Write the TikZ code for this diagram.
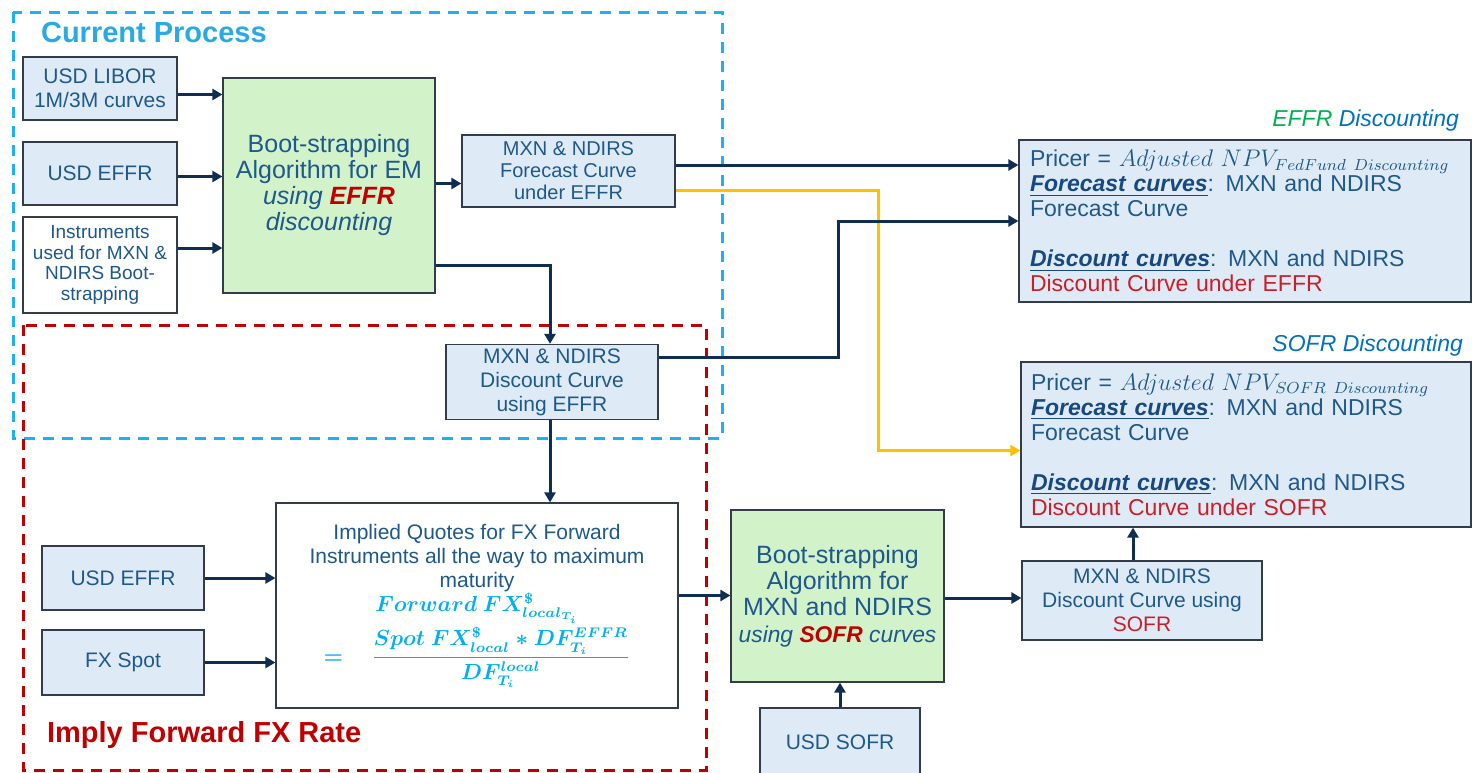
\documentclass[tikz,border=0pt]{standalone}
\usepackage{fontspec}
\setmainfont{Liberation Sans}
\usepackage{amsmath}
\usetikzlibrary{arrows.meta,positioning}
\definecolor{boxblue}{RGB}{222,235,247}
\definecolor{algreen}{RGB}{210,242,202}
\definecolor{txtblue}{RGB}{31,88,138}
\definecolor{headblue}{RGB}{24,72,128}
\definecolor{navy}{RGB}{16,46,82}
\definecolor{cyanline}{RGB}{30,176,240}
\definecolor{procblue}{RGB}{41,169,230}
\definecolor{darkred}{RGB}{192,0,0}
\definecolor{curvered}{RGB}{204,30,40}
\definecolor{effrgreen}{RGB}{0,176,80}
\definecolor{labblue}{RGB}{0,112,192}
\definecolor{fxcyan}{RGB}{0,176,240}
\definecolor{feedyellow}{RGB}{255,192,0}
\definecolor{boxline}{RGB}{50,60,75}
\newcommand{\hd}[1]{\textcolor{headblue}{\underline{\textbf{\textit{#1}}}}}
\tikzset{
  curvebox/.style={draw=boxline,line width=0.6pt,fill=boxblue,text=txtblue,align=center,inner sep=2pt},
  algobox/.style={curvebox,fill=algreen},
  plainbox/.style={curvebox,fill=white},
  pricerbox/.style={curvebox,align=left,text width=215pt,font=\fontsize{11.5}{12.5}\selectfont},
  flow/.style={navy,line width=1.5pt,-{Triangle[length=5pt,width=5.5pt]}},
  regionline/.style={line width=1.5pt,dash pattern=on 5.5pt off 4pt},
}
\begin{document}
\begin{tikzpicture}[x=0.5pt,y=-0.5pt,font=\fontsize{10.5}{12}\selectfont]
\useasboundingbox (0,0) rectangle (1472,772);
% region outlines
\draw[regionline,cyanline] (13,12) rectangle (722,438);
\draw[regionline,darkred] (23,325) rectangle (706,770);
\node[anchor=west,text=procblue,font=\fontsize{14.5}{16}\selectfont\bfseries] (curlab) at (34,33) {Current Process};
\node[anchor=west,text=darkred,font=\fontsize{14.5}{16}\selectfont\bfseries] (fxlab) at (40,735) {Imply Forward FX Rate};
\node[anchor=east,font=\fontsize{11.5}{13}\selectfont\itshape] (effrlab) at (1466,121) {\textcolor{effrgreen}{EFFR} \textcolor{labblue}{Discounting}};
\node[anchor=east,font=\fontsize{11.5}{13}\selectfont\itshape,text=labblue] (sofrlab) at (1470,346) {SOFR Discounting};
% current process
\node[curvebox,minimum width=77pt,minimum height=31.5pt] (libor) at (100,88.5) {USD LIBOR\\1M/3M curves};
\node[curvebox,minimum width=77pt,minimum height=31.5pt] (effra) at (100,173.5) {USD EFFR};
\node[plainbox,minimum width=77pt,minimum height=48pt,font=\fontsize{9.5}{10.3}\selectfont] (instr) at (100,265) {Instruments\\used for MXN \&\\NDIRS Boot-\\strapping};
\node[algobox,minimum width=106pt,minimum height=107.5pt,font=\fontsize{12.5}{13}\selectfont] (bootem) at (329,185.5) {Boot-strapping\\Algorithm for EM\\\textit{using \textcolor{darkred}{\textbf{EFFR}}}\\\textit{discounting}};
\node[curvebox,minimum width=106.5pt,minimum height=36pt,font=\fontsize{10}{11}\selectfont] (fcst) at (568.5,171) {MXN \& NDIRS\\Forecast Curve\\under EFFR};
\node[curvebox,minimum width=106pt,minimum height=36pt] (disc) at (552,382) {MXN \& NDIRS\\Discount Curve\\using EFFR};
% pricers
\node[pricerbox,minimum width=226pt,minimum height=81pt] (pricefed) at (1245,221) {Pricer = $Adjusted\ NPV_{FedFund\ Discounting}$\\\hd{Forecast curves}: MXN and NDIRS\\Forecast Curve\\[12.5pt]\hd{Discount curves}: MXN and NDIRS\\\textcolor{curvered}{Discount Curve under EFFR}};
\node[pricerbox,minimum width=225pt,minimum height=82.5pt] (pricesofr) at (1246,444.5) {Pricer = $Adjusted\ NPV_{SOFR\ Discounting}$\\\hd{Forecast curves}: MXN and NDIRS\\Forecast Curve\\[12.5pt]\hd{Discount curves}: MXN and NDIRS\\\textcolor{curvered}{Discount Curve under SOFR}};
% forward fx
\node[curvebox,minimum width=81pt,minimum height=32pt] (effrb) at (123,578) {USD EFFR};
\node[curvebox,minimum width=81pt,minimum height=32.5pt] (fxspot) at (123,662.5) {FX Spot};
\node[plainbox,minimum width=201pt,minimum height=102.5pt] (implied) at (477,605.5) {Implied Quotes for FX Forward\\Instruments all the way to maximum\\maturity\\
  \textcolor{fxcyan}{$\boldsymbol{Forward\ FX^{\$}_{local_{T_i}}}$}\\[1pt]
  \textcolor{fxcyan}{$\boldsymbol{=\quad\dfrac{Spot\ FX^{\$}_{local}*DF^{EFFR}_{T_i}}{DF^{local}_{T_i}}}$}};
\node[algobox,minimum width=106.5pt,minimum height=86pt,font=\fontsize{12.5}{13.2}\selectfont] (bootsofr) at (837.5,596) {Boot-strapping\\Algorithm for\\MXN and NDIRS\\{\fontsize{11.4}{13.2}\selectfont\textit{using \textcolor{darkred}{\textbf{SOFR}} curves}}};
\node[curvebox,minimum width=120pt,minimum height=39.5pt] (discsofr) at (1142,600.5) {MXN \& NDIRS\\Discount Curve using\\\textcolor{curvered}{SOFR}};
\node[curvebox,minimum width=80pt,minimum height=34pt] (sofr) at (840,742) {USD SOFR};
% connectors
\draw[flow] ([yshift=-3pt]libor.east) -- ([yshift=-3pt]libor.east -| bootem.west);
\draw[flow] ([yshift=-1.5pt]effra.east) -- ([yshift=-1.5pt]effra.east -| bootem.west);
\draw[flow] ([yshift=8.5pt]instr.east) -- ([yshift=8.5pt]instr.east -| bootem.west);
\draw[flow] ([yshift=1pt]bootem.east) -- ([yshift=1pt]bootem.east -| fcst.west);
\draw[flow] ([yshift=-40pt]bootem.east) -| ([xshift=-1pt]disc.north);
\draw[flow] ([yshift=3pt]fcst.east) -- ([yshift=3pt]fcst.east -| pricefed.west);
\draw[flow,feedyellow] ([yshift=-9.5pt]fcst.east) -- ++(101.5pt,0) |- ([yshift=-3pt]pricesofr.west);
\draw[flow] ([yshift=12.5pt]disc.east) -- ++(90pt,0) |- (pricefed.west);
\draw[flow] ([xshift=-1pt]disc.south) -- ([xshift=-1pt]disc.south |- implied.north);
\draw[flow] (effrb.east) -- (effrb.east -| implied.west);
\draw[flow] (fxspot.east) -- (fxspot.east -| implied.west);
\draw[flow] ([yshift=5pt]implied.east) -- ([yshift=5pt]implied.east -| bootsofr.west);
\draw[flow] ([yshift=-1pt]bootsofr.east) -- ([yshift=-1pt]bootsofr.east -| discsofr.west);
\draw[flow] ([xshift=-4.5pt]discsofr.north) -- ([xshift=-4.5pt]discsofr.north |- pricesofr.south);
\draw[flow] (sofr.north) -- (sofr.north |- bootsofr.south);
\end{tikzpicture}
\end{document}
